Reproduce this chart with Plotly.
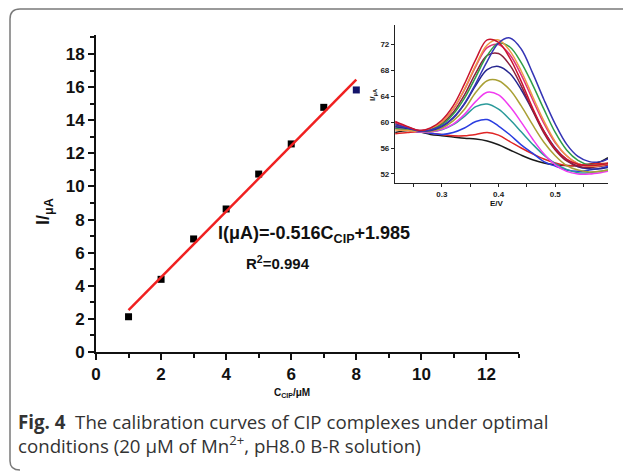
import numpy as np
import plotly.graph_objects as go

W, H = 623, 471

# ---------------- main calibration data ----------------
conc = [1, 2, 3, 4, 5, 6, 7, 8]
current = [2.13, 4.39, 6.83, 8.64, 10.75, 12.57, 14.78, 15.83]
x_ticks = [0, 2, 4, 6, 8, 10, 12]
y_ticks = [0, 2, 4, 6, 8, 10, 12, 14, 16, 18]

# ---------------- inset DPV curves ----------------
E = [0.218, 0.24, 0.26, 0.28, 0.30, 0.32, 0.34, 0.36, 0.38, 0.40,
     0.42, 0.44, 0.46, 0.48, 0.50, 0.52, 0.54, 0.56, 0.58, 0.593]
c_black = [58.4, 58.7, 58.5, 58.1, 57.9, 57.7, 57.5, 57.4, 57.1, 56.5, 55.7, 54.9, 54.2, 53.7, 53.4, 53.3, 53.3, 53.5, 53.9, 54.5]
c_red = [58.2, 58.4, 58.5, 58.3, 58.1, 57.9, 57.9, 58.1, 58.4, 58.0, 57.0, 56.0, 55.1, 54.3, 53.7, 53.3, 53.3, 53.5, 53.6, 53.7]
c_blue = [59.0, 58.8, 58.5, 58.3, 58.1, 58.4, 59.1, 60.1, 60.4, 59.4, 58.05, 56.5, 55.2, 53.9, 53.2, 52.6, 52.4, 52.6, 52.9, 53.2]
c_teal = [59.3, 58.9, 58.5, 58.5, 58.8, 59.6, 60.9, 62.4, 62.8, 62.0, 60.4, 58.5, 56.6, 54.9, 53.6, 52.7, 52.2, 52.2, 52.4, 52.6]
c_magenta = [59.1, 58.8, 58.5, 58.5, 58.9, 59.7, 61.2, 63.2, 64.6, 64.2, 62.4, 60.0, 57.4, 55.1, 53.4, 52.4, 52.0, 52.0, 52.2, 52.4]
c_olive = [59.5, 59.0, 58.6, 58.6, 59.1, 60.2, 62.0, 64.6, 66.4, 66.4, 65.0, 62.5, 59.6, 56.9, 54.8, 53.3, 52.6, 52.3, 52.4, 52.6]
c_navy = [59.3, 59.0, 58.6, 58.7, 59.3, 60.6, 62.8, 65.7, 68.1, 68.6, 67.5, 65.0, 61.8, 58.6, 56.0, 54.2, 53.1, 52.8, 52.8, 53.0]
c_maroon = [59.8, 59.2, 58.7, 58.9, 59.8, 61.5, 64.2, 67.6, 70.3, 70.6, 68.8, 65.6, 61.8, 58.3, 55.7, 54.0, 53.2, 53.0, 53.2, 53.4]
c_pink = [60.0, 59.2, 58.7, 59.0, 60.0, 62.0, 65.0, 68.6, 71.5, 72.0, 70.4, 67.3, 63.5, 59.8, 56.8, 54.8, 53.6, 53.2, 53.3, 53.5]
c_green = [59.0, 58.8, 58.6, 58.9, 59.6, 61.2, 63.7, 67.0, 70.3, 72.2, 71.6, 69.2, 65.8, 62.0, 58.4, 55.7, 54.1, 53.4, 53.4, 53.6]
c_orange = [58.8, 58.7, 58.6, 59.0, 60.0, 62.0, 65.1, 68.8, 71.9, 72.7, 71.0, 67.9, 64.0, 60.2, 57.0, 54.8, 53.6, 53.2, 53.3, 53.6]
c_royal = [59.6, 59.1, 58.6, 58.8, 59.4, 60.7, 62.9, 66.0, 69.4, 72.2, 73.0, 71.3, 67.6, 63.5, 59.7, 56.6, 54.7, 53.9, 53.9, 54.3]
c_red2 = [60.1, 59.3, 58.7, 59.1, 60.3, 62.5, 65.9, 69.7, 72.7, 72.3, 69.9, 66.3, 62.2, 58.6, 55.9, 54.3, 53.5, 53.3, 53.4, 53.6]
inset_x_ticks = [0.3, 0.4, 0.5]
inset_y_ticks = [52, 56, 60, 64, 68, 72]

curves = [
    (c_black, "#1a1a1a"), (c_red, "#e02525"), (c_blue, "#2a3de0"),
    (c_teal, "#2a9a9a"), (c_magenta, "#f03cf0"), (c_olive, "#a9a035"),
    (c_navy, "#262690"), (c_maroon, "#8a1f3c"), (c_pink, "#e0307a"),
    (c_green, "#2f9e45"), (c_orange, "#ee9a45"), (c_royal, "#3535b5"),
    (c_red2, "#c8142e"),
]

fig = go.Figure()

# markers
marker_colors = ["#000000"] * (len(conc) - 1) + ["#14146a"]
fig.add_trace(go.Scatter(
    x=conc, y=current, mode="markers",
    marker=dict(symbol="square", size=7, color=marker_colors, line=dict(width=0)),
    xaxis="x", yaxis="y", showlegend=False, cliponaxis=False))

# linear fit
slope, intercept = np.polyfit(conc, current, 1)
fx = [conc[0], conc[-1]]
fy = [slope * v + intercept for v in fx]
fig.add_trace(go.Scatter(
    x=fx, y=fy, mode="lines", line=dict(color="#f02020", width=2.5),
    xaxis="x", yaxis="y", showlegend=False))

for ys, col in curves:
    fig.add_trace(go.Scatter(
        x=E, y=ys, mode="lines", line=dict(color=col, width=1.5, shape="spline"),
        xaxis="x2", yaxis="y2", showlegend=False))

bold_tick = dict(family="Liberation Sans, Arial", size=17, color="#111", weight="bold")
small_tick = dict(family="Liberation Sans, Arial", size=8, color="#222", weight="bold")

def px(x):
    return x / W

def py(y):
    return 1 - y / H

fig.update_layout(
    width=W, height=H,
    margin=dict(l=0, r=0, t=0, b=0, autoexpand=False),
    paper_bgcolor="white", plot_bgcolor="rgba(0,0,0,0)",
    xaxis=dict(domain=[px(96), px(519)], range=[0, 13], tickvals=x_ticks,
               ticks="outside", ticklen=6, tickwidth=2, tickcolor="#111",
               minor=dict(dtick=1, tick0=0, ticks="outside", ticklen=4, tickwidth=2, tickcolor="#111"),
               showline=True, linewidth=2, linecolor="#111", showgrid=False, zeroline=False,
               tickfont=bold_tick, anchor="y", automargin=False),
    yaxis=dict(domain=[py(352), py(35)], range=[0, 19.15], tickvals=y_ticks,
               ticks="outside", ticklen=6, tickwidth=2, tickcolor="#111",
               minor=dict(dtick=1, tick0=0, ticks="outside", ticklen=4, tickwidth=2, tickcolor="#111"),
               showline=True, linewidth=2, linecolor="#111", showgrid=False, zeroline=False,
               tickfont=bold_tick, anchor="x", automargin=False),
    xaxis2=dict(domain=[px(395), px(608)], range=[0.2175, 0.593], tickvals=inset_x_ticks,
                ticktext=[f"{v:.1f}" for v in inset_x_ticks],
                ticks="outside", ticklen=3, tickwidth=1, tickcolor="#222",
                minor=dict(dtick=0.05, tick0=0.25, ticks="outside", ticklen=3, tickwidth=1, tickcolor="#222"),
                showline=True, linewidth=1.2, linecolor="#222", showgrid=False, zeroline=False,
                tickfont=small_tick, anchor="y2", automargin=False),
    yaxis2=dict(domain=[py(183), py(25)], range=[50.6, 75], tickvals=inset_y_ticks,
                ticks="outside", ticklen=3, tickwidth=1, tickcolor="#222",
                showline=True, linewidth=1.2, linecolor="#222", showgrid=False, zeroline=False,
                tickfont=small_tick, anchor="x2", automargin=False),
)

ann_font = dict(family="Liberation Sans, Arial", color="#111", weight="bold")
annotations = [
    dict(x=px(44), y=py(212), text="I/<sub>μA</sub>", textangle=-90,
         font=dict(ann_font, size=18)),
    dict(x=px(292), y=py(393), text="C<sub>CIP</sub>/μM", font=dict(ann_font, size=10)),
    dict(x=px(216), y=py(234), text="I(μA)=-0.516C<sub>CIP</sub>+1.985", xanchor="left",
         font=dict(ann_font, size=18)),
    dict(x=px(244), y=py(262), text="R<sup>2</sup>=0.994", xanchor="left",
         font=dict(ann_font, size=15)),
    dict(x=px(373), y=py(95), text="I/<sub>μA</sub>", textangle=-90,
         font=dict(ann_font, size=8)),
    dict(x=px(497), y=py(203), text="E/V", font=dict(ann_font, size=8)),
    dict(x=px(16), y=py(433), xanchor="left", align="left",
         text="<b>Fig. 4</b>  The calibration curves of CIP complexes under optimal<br>"
              "conditions (20 μM of Mn<sup>2+</sup>, pH8.0 B-R solution)",
         font=dict(family="Open Sans", size=18.7, color="#333")),
]
for a in annotations:
    a.update(xref="paper", yref="paper", showarrow=False)
    a.setdefault("xanchor", "center")
    a.setdefault("yanchor", "middle")
fig.update_layout(annotations=annotations)

# rounded frame
frame = (f"M {px(640)},{py(9)} L {px(20)},{py(9)} Q {px(10)},{py(9)} {px(10)},{py(19)} "
         f"L {px(10)},{py(461)} Q {px(10)},{py(470)} {px(20)},{py(470)}")
fig.add_shape(type="path", path=frame, xref="paper", yref="paper",
              line=dict(color="#7a7a7a", width=1.5))

fig.write_html("out.html", config={"displayModeBar": False},
               post_script="document.body.style.margin='0';document.body.style.overflow='hidden';")
